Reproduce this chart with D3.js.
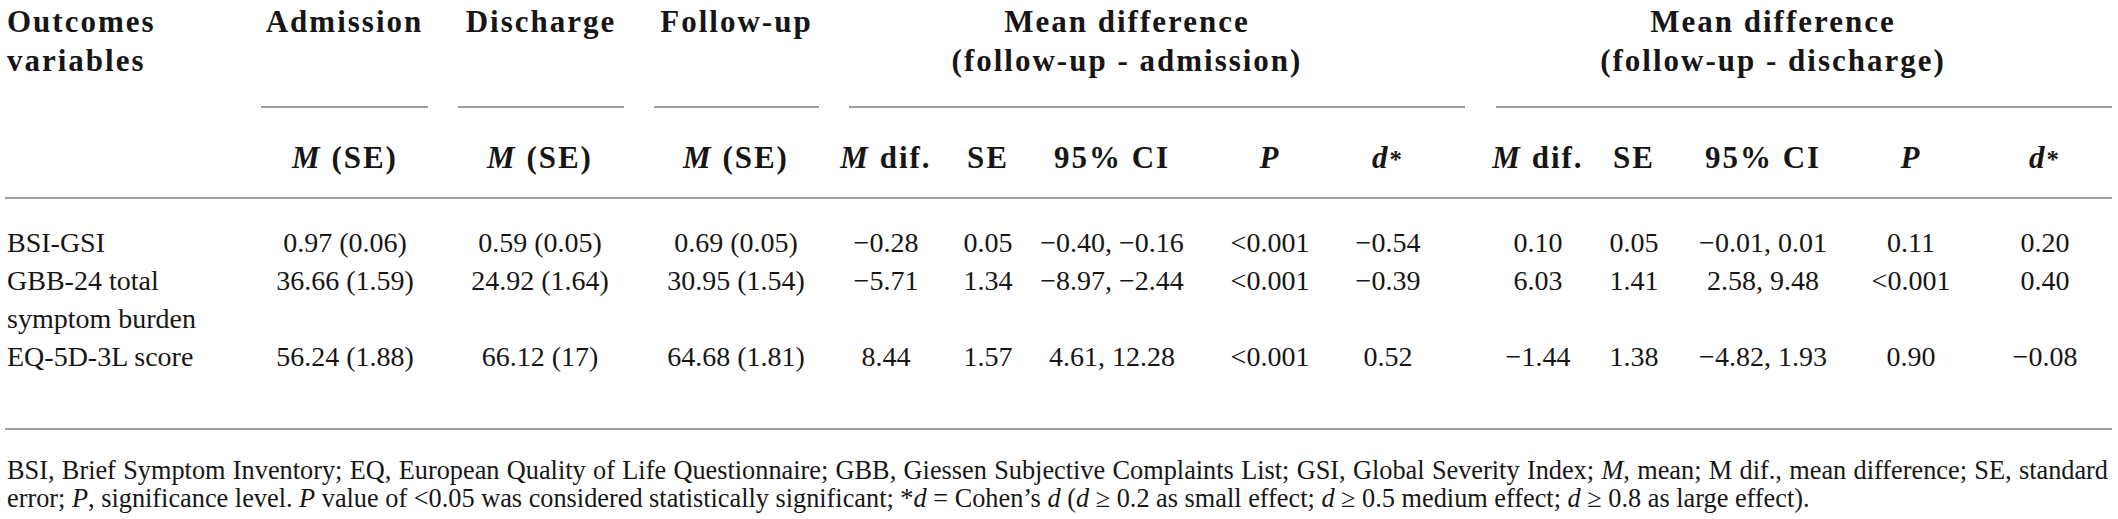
<!DOCTYPE html>
<html><head><meta charset="utf-8">
<script src="https://cdn.jsdelivr.net/npm/d3@7"></script>
<style>html,body{margin:0;padding:0;background:#fff;overflow:hidden}
svg{font-family:"Liberation Serif","Tinos","Times New Roman","Nimbus Roman","DejaVu Serif",serif}</style>
</head><body>
<script>
// ---- data ----
const outcomes = [["BSI-GSI"], ["GBB-24 total", "symptom burden"], ["EQ-5D-3L score"]];
const admission = ["0.97 (0.06)", "36.66 (1.59)", "56.24 (1.88)"];
const discharge = ["0.59 (0.05)", "24.92 (1.64)", "66.12 (17)"];
const followUp = ["0.69 (0.05)", "30.95 (1.54)", "64.68 (1.81)"];
const fuAdmMdif = ["\u22120.28", "\u22125.71", "8.44"];
const fuAdmSE = ["0.05", "1.34", "1.57"];
const fuAdmCI = ["\u22120.40, \u22120.16", "\u22128.97, \u22122.44", "4.61, 12.28"];
const fuAdmP = ["<0.001", "<0.001", "<0.001"];
const fuAdmD = ["\u22120.54", "\u22120.39", "0.52"];
const fuDisMdif = ["0.10", "6.03", "\u22121.44"];
const fuDisSE = ["0.05", "1.41", "1.38"];
const fuDisCI = ["\u22120.01, 0.01", "2.58, 9.48", "\u22124.82, 1.93"];
const fuDisP = ["0.11", "<0.001", "0.90"];
const fuDisD = ["0.20", "0.40", "\u22120.08"];

const topHeaders = [["Admission"], ["Discharge"], ["Follow-up"]];
const spanHeaders = [["Mean difference", "(follow-up - admission)"], ["Mean difference", "(follow-up - discharge)"]];
const subHeaders = [
  [{t:"M", i:1}, {t:" (SE)"}], [{t:"M", i:1}, {t:" (SE)"}], [{t:"M", i:1}, {t:" (SE)"}],
  [{t:"M", i:1}, {t:" dif."}], [{t:"SE"}], [{t:"95% CI"}], [{t:"P", i:1}], [{t:"d", i:1}, {t:"*", s:1}],
  [{t:"M", i:1}, {t:" dif."}], [{t:"SE"}], [{t:"95% CI"}], [{t:"P", i:1}], [{t:"d", i:1}, {t:"*", s:1}]
];
const footnote = [
  [{t:"BSI, Brief Symptom Inventory; EQ, European Quality of Life Questionnaire; GBB, Giessen Subjective Complaints List; GSI, Global Severity Index; "}, {t:"M", i:1}, {t:", mean; M dif., mean difference; SE, standard"}],
  [{t:"error; "}, {t:"P", i:1}, {t:", significance level. "}, {t:"P", i:1}, {t:" value of <0.05 was considered statistically significant; *"}, {t:"d", i:1}, {t:" = Cohen\u2019s "}, {t:"d", i:1}, {t:" ("}, {t:"d", i:1}, {t:" \u2265 0.2 as small effect; "}, {t:"d", i:1}, {t:" \u2265 0.5 medium effect; "}, {t:"d", i:1}, {t:" \u2265 0.8 as large effect)."}]
];

// ---- layout ----
const W = 2118, H = 519;
const colKeys = ["adm","dis","fu","m1","se1","ci1","p1","d1","m2","se2","ci2","p2","d2"];
const bodyCols = [admission, discharge, followUp, fuAdmMdif, fuAdmSE, fuAdmCI, fuAdmP, fuAdmD, fuDisMdif, fuDisSE, fuDisCI, fuDisP, fuDisD];
const x = d3.scaleOrdinal().domain(colKeys)
  .range([345, 540, 736, 886, 988, 1112, 1270, 1388, 1538, 1634, 1763, 1911, 2045]);
const groupX = d3.scaleOrdinal().domain(["adm","dis","fu","s1","s2"])
  .range([[261,428],[458,624],[654,819],[849,1465],[1496,2112]]);
const spanTextX = d3.scaleOrdinal().domain(["s1","s2"]).range([1127, 1773]);
const rowY = d3.scaleOrdinal().domain([0,1,2]).range([252, 290, 366]);
const lineGap = 38;

const svg = d3.select("body").append("svg").attr("width", W).attr("height", H);

function rich(sel, segs) {
  segs.forEach(s => {
    const ts = sel.append("tspan").text(s.t);
    if (s.i) ts.attr("font-style", "italic");
    if (s.s) ts.attr("font-size", "0.8em");
  });
}

const textCol = "#161616";
const hdr = svg.append("g").attr("font-weight", "bold").attr("font-size", 31)
  .attr("fill", textCol).attr("letter-spacing", 2);

// stub header
hdr.selectAll("text.stub").data(["Outcomes", "variables"]).join("text")
  .attr("x", 7).attr("y", (d, i) => 32 + i * 39).text(d => d);

// top headers
hdr.selectAll("text.top").data(topHeaders).join("text")
  .attr("text-anchor", "middle")
  .attr("x", (d, i) => d3.mean(groupX(["adm","dis","fu"][i])))
  .attr("y", 32).text(d => d[0]);

// span headers
spanHeaders.forEach((lines, k) => {
  hdr.selectAll(null).data(lines).join("text")
    .attr("text-anchor", "middle")
    .attr("x", spanTextX(["s1","s2"][k]))
    .attr("y", (d, i) => 32 + i * 39).text(d => d);
});

// spanner lines
svg.append("g").selectAll("line").data(["adm","dis","fu","s1","s2"]).join("line")
  .attr("x1", d => groupX(d)[0]).attr("x2", d => groupX(d)[1])
  .attr("y1", 107).attr("y2", 107)
  .attr("stroke", "#7d7d7d").attr("stroke-width", 1.5);

// sub headers
hdr.selectAll("text.sub").data(subHeaders).join("text")
  .attr("text-anchor", "middle")
  .attr("x", (d, i) => x(colKeys[i])).attr("y", 168)
  .each(function(d) { rich(d3.select(this), d); });

// rules
svg.append("g").selectAll("line").data([198, 429]).join("line")
  .attr("x1", 5).attr("x2", 2112).attr("y1", d => d).attr("y2", d => d)
  .attr("stroke", "#a0a0a0").attr("stroke-width", 2);

// body
const body = svg.append("g").attr("font-size", 28).attr("fill", textCol);
outcomes.forEach((lines, r) => {
  body.selectAll(null).data(lines).join("text")
    .attr("x", 7).attr("y", (d, i) => rowY(r) + i * lineGap).text(d => d);
});
bodyCols.forEach((vals, c) => {
  body.selectAll(null).data(vals).join("text")
    .attr("text-anchor", "middle")
    .attr("x", x(colKeys[c])).attr("y", (d, r) => rowY(r)).text(d => d);
});

// footnote: first line justified to the table width, second line natural
const fnRight = 2108;
const fn = svg.append("g").attr("font-size", 26.3).attr("fill", textCol);
fn.selectAll("text").data(footnote).join("text")
  .attr("x", 7).attr("y", (d, i) => 479 + i * 28)
  .each(function(d, i) {
    const t = d3.select(this); rich(t, d);
    if (i === 0) {
      const w = this.getComputedTextLength();
      const spaces = d.map(s => s.t).join("").split(" ").length - 1;
      if (w > 0 && w < fnRight - 7) t.attr("word-spacing", (fnRight - 7 - w) / spaces);
    }
  });
</script>
</body></html>
